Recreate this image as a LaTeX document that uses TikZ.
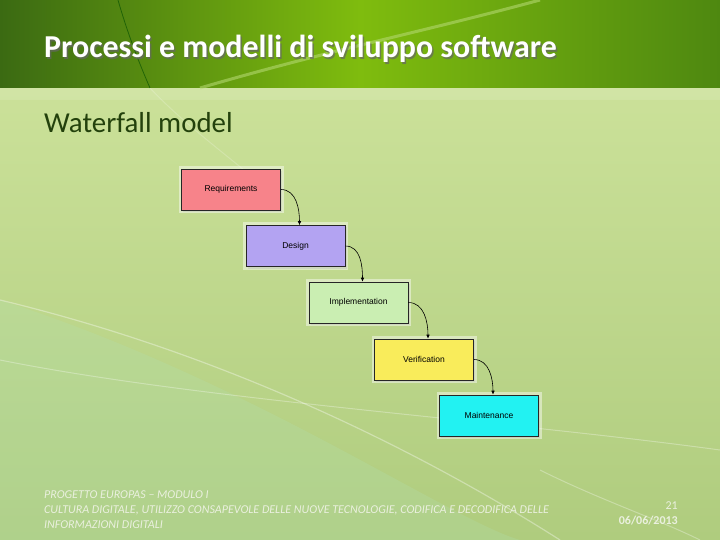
\documentclass[tikz,border=0pt]{standalone}
\usepackage{fontspec}
\setmainfont{Carlito}
\newfontfamily\boxfont{Liberation Sans}
\usepackage{tikz}
\usetikzlibrary{positioning,arrows}
\usetikzlibrary{shapes}
\usetikzlibrary{arrows.meta}
\usetikzlibrary{shadows}
\usepackage{xcolor}
\definecolor{hdrdark}{HTML}{3B6A12}
\definecolor{hdrlight}{HTML}{7FBC0E}
\definecolor{hdrright}{HTML}{4E8810}
\definecolor{bodytop}{HTML}{CBE199}
\definecolor{bodybot}{HTML}{AFCC7E}
\definecolor{subcol}{HTML}{23410C}
\definecolor{reqcol}{HTML}{F7838A}
\definecolor{descol}{HTML}{B3A3F2}
\definecolor{impcol}{HTML}{CAEEB2}
\definecolor{vercol}{HTML}{F9EC5B}
\definecolor{maicol}{HTML}{22F2F2}
\definecolor{foottxt}{HTML}{EAF0DE}

\begin{document}
\begin{tikzpicture}[x=1pt,y=-1pt]
	\useasboundingbox (0,0) rectangle (720,540);
	% slide background
	\shade [top color=bodytop, bottom color=bodybot] (0,88) rectangle (720,540);
	\fill [black!40!green!30, opacity=0.25] (0,300) .. controls (250,380) and (450,520) .. (520,540) -- (0,540) -- cycle;
	\draw [white, opacity=0.35, line width=1.2pt] (0,300) .. controls (250,360) and (450,470) .. (560,540);
	\draw [white, opacity=0.3, line width=1pt] (0,360) .. controls (200,400) and (500,420) .. (720,450);
	\draw [white, opacity=0.3, line width=1pt] (540,470) .. controls (600,500) and (660,520) .. (700,540);
	\draw [white, opacity=0.2, line width=1pt] (150,88) .. controls (180,120) and (220,150) .. (250,175);
	\shade [left color=hdrdark, right color=hdrright, middle color=hdrlight] (0,0) rectangle (720,88);
	\draw [hdrlight!60!white, opacity=0.6, line width=3pt] (200,88) .. controls (330,50) and (430,30) .. (540,0);
	\draw [black!70!green, opacity=0.6, line width=0.8pt] (118,0) .. controls (128,35) and (140,65) .. (150,88);
	\fill [white, opacity=0.12] (0,88) rectangle (720,100);

	% titles
	\tikzstyle{every node}=[anchor=base west, inner sep=0pt]
	\draw (45.5,59.5) node (titleshadow) [text=black!60, opacity=0.7, font=\fontsize{31.9}{36}\selectfont\bfseries] {Processi e modelli di sviluppo software};
	\draw (44,58) node (title) [text=white, font=\fontsize{31.9}{36}\selectfont\bfseries] {Processi e modelli di sviluppo software};
	\draw (44,133) node (sub) [text=subcol, font=\fontsize{28.9}{32}\selectfont] {Waterfall model};

	% phases
	\tikzstyle{every node}=[rectangle, draw=black!85, line width=0.6pt, minimum width=99pt, minimum height=41pt, inner sep=0pt, font=\boxfont\fontsize{8.5}{10}\selectfont, drop shadow={opacity=0.35, shadow xshift=1.5pt, shadow yshift=-2pt}, preaction={draw=white, opacity=0.45, line width=6pt}]
	\draw (231,189.5) node (req) [fill=reqcol] {Requirements};
	\draw (295.5,246) node (des) [fill=descol] {Design};
	\draw (358.5,302.5) node (imp) [fill=impcol] {Implementation};
	\draw (424,359.5) node (ver) [fill=vercol] {Verification};
	\draw (489,415.5) node (mai) [fill=maicol] {Maintenance};

	% connectors
	\tikzstyle{every node}=[font=\scriptsize]
	\draw [line width=0.6pt, -{Latex[length=4pt,width=3.5pt]}] (req.east) to[out=0, in=90] ([xshift=4pt]des.north);
	\draw [line width=0.6pt, -{Latex[length=4pt,width=3.5pt]}] (des.east) to[out=0, in=90] ([xshift=4pt]imp.north);
	\draw [line width=0.6pt, -{Latex[length=4pt,width=3.5pt]}] (imp.east) to[out=0, in=90] ([xshift=4pt]ver.north);
	\draw [line width=0.6pt, -{Latex[length=4pt,width=3.5pt]}] (ver.east) to[out=0, in=90] ([xshift=4pt]mai.north);

	% footer
	\tikzstyle{every node}=[inner sep=0pt, text=foottxt, font=\fontsize{12}{15}\selectfont\itshape]
	\draw (44,491) node (foot) [anchor=north west, align=left] {PROGETTO EUROPAS -- MODULO I\\CULTURA DIGITALE, UTILIZZO CONSAPEVOLE DELLE NUOVE TECNOLOGIE, CODIFICA E DECODIFICA DELLE\\INFORMAZIONI DIGITALI};
	\draw (678,509) node (page) [anchor=base east, font=\fontsize{12}{14}\selectfont] {21};
	\draw (678,524) node (date) [anchor=base east, font=\fontsize{12}{14}\selectfont\bfseries] {06/06/2013};
\end{tikzpicture}
\end{document}
